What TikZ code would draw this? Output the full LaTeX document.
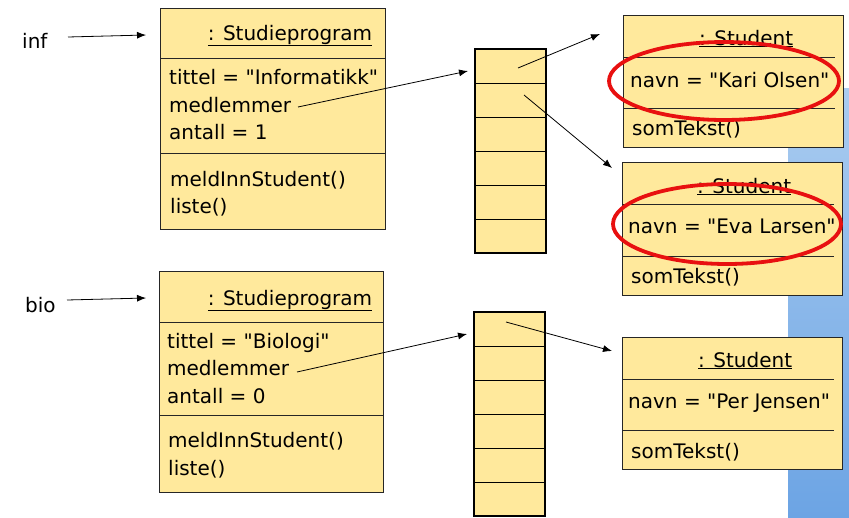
\documentclass[tikz,border=0pt]{standalone}
\usepackage{fontspec}
\setmainfont{DejaVu Sans}[Ligatures=TeXOff]
\usetikzlibrary{arrows.meta,shapes.geometric}
\definecolor{umlyellow}{RGB}{255,233,156}
\definecolor{markred}{RGB}{232,16,16}
\definecolor{bgblueA}{RGB}{170,204,240}
\definecolor{bgblueB}{RGB}{108,164,228}
\begin{document}
\begin{tikzpicture}[x=1pt,y=-1pt,
  umlbox/.style={draw=black!85, fill=umlyellow, line width=0.8pt, inner sep=0pt, anchor=north west},
  cell/.style={draw=black, fill=umlyellow, line width=0.7pt, inner sep=0pt, anchor=north west, minimum width=71pt, minimum height=34pt},
  frame/.style={draw=black, line width=2.6pt},
  divider/.style={draw=black!85, line width=0.8pt},
  txt/.style={anchor=base west, inner sep=0pt, font=\fontsize{20}{24}\selectfont},
  hdr/.style={anchor=base, inner sep=0pt, font=\fontsize{20}{24}\selectfont},
  arr/.style={-{Latex[length=9pt,width=7pt]}, line width=0.8pt},
  redmark/.style={draw=markred, line width=3.8pt, ellipse, inner sep=0pt}
]
\useasboundingbox (0,0) rectangle (849,517);
% background strip
\shade[top color=bgblueA, bottom color=bgblueB] (788,88) rectangle (849,517);

% ===== Studieprogram inf =====
\node[umlbox, minimum width=225pt, minimum height=221pt] (sp1) at (160,8) {};
\draw[divider] (160,58) -- (385,58);
\draw[divider] (160,153) -- (385,153);
\node[hdr] (sp1h) at (290,40) {\underline{: Studieprogram}};
\node[txt] (sp1a) at (169,84) {tittel = "Informatikk"};
\node[txt] (sp1b) at (169,112) {medlemmer};
\node[txt] (sp1c) at (169,139) {antall = 1};
\node[txt] (sp1d) at (170,186) {meldInnStudent()};
\node[txt] (sp1e) at (170,213) {liste()};
\node[txt] (inf) at (22,48) {inf};
\coordinate (infs) at (68,37);
\coordinate (infe) at (146,35);
\draw[arr] (infs) -- (infe);

% ===== Studieprogram bio =====
\node[umlbox, minimum width=224pt, minimum height=221pt] (sp2) at (159,271) {};
\draw[divider] (159,322) -- (383,322);
\draw[divider] (159,415) -- (383,415);
\node[hdr] (sp2h) at (290,305) {\underline{: Studieprogram}};
\node[txt] (sp2a) at (167,348) {tittel = "Biologi"};
\node[txt] (sp2b) at (167,375) {medlemmer};
\node[txt] (sp2c) at (167,403) {antall = 0};
\node[txt] (sp2d) at (168,447) {meldInnStudent()};
\node[txt] (sp2e) at (168,475) {liste()};
\node[txt] (bio) at (25,312) {bio};
\coordinate (bios) at (67,300);
\coordinate (bioe) at (146,298);
\draw[arr] (bios) -- (bioe);

% ===== arrays =====
\foreach \i in {0,...,5} {
  \node[cell] (a1c\i) at (475,{49+\i*34}) {};
  \node[cell] (a2c\i) at (474,{312+\i*34}) {};
}
\draw[frame] (475,49) rectangle (546,253);
\draw[frame] (474,312) rectangle (545,516);

% ===== Students =====
\node[umlbox, minimum width=220pt, minimum height=132pt] (st1) at (623,15) {};
\draw[divider] (623,57) -- (835,57);
\draw[divider] (623,108) -- (835,108);
\node[txt] (st1h) at (699,45) {\underline{: Student}};
\node[txt] (st1a) at (630,87) {navn = "Kari Olsen"};
\node[txt] (st1b) at (632,135) {somTekst()};

\node[umlbox, minimum width=220pt, minimum height=133pt] (st2) at (622,162) {};
\draw[divider] (622,204) -- (834,204);
\draw[divider] (622,256) -- (834,256);
\node[txt] (st2h) at (697,193) {\underline{: Student}};
\node[txt] (st2a) at (628,233) {navn = "Eva Larsen"};
\node[txt] (st2b) at (631,283) {somTekst()};

\node[umlbox, minimum width=220pt, minimum height=132pt] (st3) at (622,337) {};
\draw[divider] (622,379) -- (834,379);
\draw[divider] (622,430) -- (834,430);
\node[txt] (st3h) at (698,367) {\underline{: Student}};
\node[txt] (st3a) at (628,408) {navn = "Per Jensen"};
\node[txt] (st3b) at (631,458) {somTekst()};

% ===== references =====
\coordinate (m1) at (298,107);
\coordinate (m1e) at (468,71);
\draw[arr] (m1) -- (m1e);
\coordinate (m2) at (297,372);
\coordinate (m2e) at (467,334);
\draw[arr] (m2) -- (m2e);

\coordinate (r1s) at (518,68);
\coordinate (r1e) at (600,34);
\draw[arr] (r1s) -- (r1e);
\coordinate (r2s) at (524,95);
\coordinate (r2e) at (612,168);
\draw[arr] (r2s) -- (r2e);
\coordinate (r3s) at (506,322);
\coordinate (r3e) at (612,351);
\draw[arr] (r3s) -- (r3e);

% ===== red marks =====
\node[redmark, minimum width=230pt, minimum height=78pt] (e1) at (724,81) {};
\node[redmark, minimum width=228pt, minimum height=80pt] (e2) at (727,224) {};
\end{tikzpicture}
\end{document}
